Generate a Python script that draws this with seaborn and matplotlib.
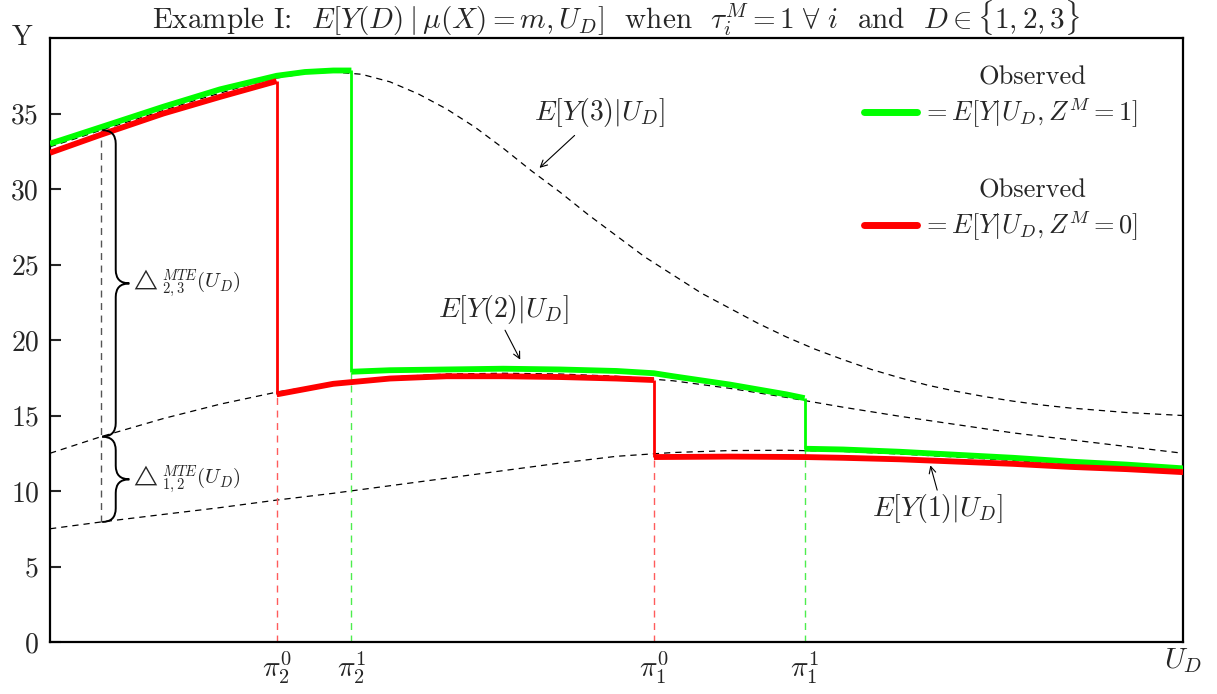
import matplotlib
matplotlib.use("Agg")
import matplotlib.pyplot as plt
import pandas as pd
import seaborn as sns
from matplotlib.lines import Line2D
from matplotlib.path import Path
from matplotlib.patches import PathPatch

# potential outcome curves E[Y(d)|U_D]
u3 = [0, 0.025, 0.045, 0.075, 0.1, 0.125, 0.15, 0.175, 0.2, 0.225, 0.25, 0.275,
      0.3, 0.325, 0.35, 0.375, 0.4, 0.425, 0.45, 0.475, 0.5, 0.525, 0.55, 0.575,
      0.6, 0.625, 0.65, 0.675, 0.7, 0.725, 0.75, 0.775, 0.8, 0.825, 0.85, 0.875,
      0.9, 0.925, 0.95, 0.975, 1.0]
y3 = [32.8, 33.4, 33.9, 34.6, 35.2, 35.8, 36.35, 36.9, 37.35, 37.65, 37.75, 37.6,
      37.1, 36.3, 35.3, 34.1, 32.7, 31.2, 29.8, 28.3, 26.9, 25.5, 24.3, 23.1,
      22.1, 21.1, 20.2, 19.4, 18.7, 18.05, 17.5, 17.0, 16.6, 16.25, 15.95, 15.7,
      15.5, 15.35, 15.2, 15.1, 15.0]
u2 = [0, 0.045, 0.1, 0.15, 0.2, 0.25, 0.3, 0.35, 0.4, 0.45, 0.5, 0.55, 0.6, 0.65,
      0.7, 0.75, 0.8, 0.85, 0.9, 0.95, 1.0]
y2 = [12.5, 13.6, 14.8, 15.75, 16.55, 17.15, 17.55, 17.75, 17.8, 17.75, 17.6, 17.3,
      16.8, 16.2, 15.55, 14.95, 14.4, 13.85, 13.4, 12.95, 12.5]
u1 = [0, 0.045, 0.1, 0.15, 0.2, 0.25, 0.3, 0.35, 0.4, 0.45, 0.5, 0.55, 0.6, 0.65,
      0.7, 0.75, 0.8, 0.85, 0.9, 0.95, 1.0]
y1 = [7.5, 7.95, 8.45, 8.9, 9.4, 9.85, 10.35, 10.85, 11.35, 11.85, 12.3, 12.55,
      12.68, 12.7, 12.62, 12.45, 12.25, 12.02, 11.8, 11.6, 11.4]

# observed E[Y|U_D, Z^M], a repeated u marks a jump
green_u = [0, 0.045, 0.1, 0.15, 0.2, 0.225, 0.25, 0.266,
           0.266, 0.3, 0.35, 0.4, 0.45, 0.5, 0.533, 0.55, 0.6, 0.65, 0.666,
           0.666, 0.7, 0.75, 0.8, 0.85, 0.9, 0.95, 1.0]
green_y = [33.0, 34.1, 35.45, 36.6, 37.5, 37.75, 37.85, 37.85,
           17.9, 18.0, 18.05, 18.1, 18.05, 17.95, 17.8, 17.6, 17.05, 16.4, 16.15,
           12.8, 12.75, 12.6, 12.4, 12.2, 11.95, 11.75, 11.5]
red_u = [0, 0.045, 0.1, 0.15, 0.2,
         0.2, 0.25, 0.3, 0.35, 0.4, 0.45, 0.5, 0.533,
         0.533, 0.6, 0.666, 0.7, 0.75, 0.8, 0.85, 0.9, 0.95, 1.0]
red_y = [32.4, 33.6, 35.0, 36.1, 37.15,
         16.4, 17.1, 17.45, 17.6, 17.6, 17.55, 17.45, 17.35,
         12.25, 12.28, 12.25, 12.2, 12.1, 11.95, 11.8, 11.6, 11.45, 11.25]

pi_pos = [0.2, 0.266, 0.533, 0.666]
pi_labels = [r"$\pi_2^0$", r"$\pi_2^1$", r"$\pi_1^0$", r"$\pi_1^1$"]
y_ticks = [0, 5, 10, 15, 20, 25, 30, 35]

GREEN = "#00ff00"
RED = "#ff0000"

sns.set_theme(style="ticks")
plt.rcParams.update({
    "font.family": "serif",
    "font.serif": ["cmr10"],
    "mathtext.fontset": "cm",
    "axes.unicode_minus": False,
    "axes.formatter.use_mathtext": True,
    "axes.edgecolor": "black",
    "axes.linewidth": 1.6,
})

fig = plt.figure(figsize=(12.17, 6.94), dpi=100)
ax = fig.add_axes([0.0411, 0.0749, 0.931, 0.8703])

curves = pd.concat([
    pd.DataFrame({"u": u1, "y": y1, "curve": "Y1"}),
    pd.DataFrame({"u": u2, "y": y2, "curve": "Y2"}),
    pd.DataFrame({"u": u3, "y": y3, "curve": "Y3"}),
])
sns.lineplot(data=curves, x="u", y="y", units="curve", estimator=None, sort=False,
             color="black", lw=0.9, linestyle=(0, (5, 4)), ax=ax)


def observed(us, ys, color, dash_color):
    # split at the jumps: thick pieces, thin vertical steps
    seg, segs, jumps = 0, [], []
    for i in range(len(us)):
        if i > 0 and us[i] == us[i - 1]:
            seg += 1
            jumps.append((us[i], ys[i - 1], ys[i]))
        segs.append(seg)
    df = pd.DataFrame({"u": us, "y": ys, "seg": segs})
    for ju, ya, yb in jumps:
        lo = min(ya, yb)
        ax.vlines(ju, 0, lo, color=dash_color, lw=1.0, linestyle=(0, (5, 4)), zorder=2)
        ax.vlines(ju, lo, max(ya, yb), color=color, lw=2.0, zorder=3)
    sns.lineplot(data=df, x="u", y="y", units="seg", estimator=None, sort=False,
                 color=color, lw=4.2, solid_capstyle="butt", ax=ax, zorder=3)


observed(green_u, green_y, GREEN, "#4ded4d")
observed(red_u, red_y, RED, "#ff5c5c")

# MTE braces at u = 0.045
bu = u1[1]
ax.vlines(bu, y1[1], y3[2], color="#555555", lw=1.0, linestyle=(0, (5, 4)), zorder=2)


def brace(ylo, yhi, x0, x1, x2, r=0.9):
    ym = (ylo + yhi) / 2
    verts = [(x0, yhi), (x1, yhi), (x1, yhi - r), (x1, ym + r), (x1, ym), (x2, ym),
             (x1, ym), (x1, ym - r), (x1, ylo + r), (x1, ylo), (x0, ylo)]
    codes = [Path.MOVETO, Path.CURVE3, Path.CURVE3, Path.LINETO, Path.CURVE3,
             Path.CURVE3, Path.CURVE3, Path.CURVE3, Path.LINETO, Path.CURVE3, Path.CURVE3]
    ax.add_patch(PathPatch(Path(verts, codes), fill=False, lw=1.4, color="black", zorder=4))
    return ym


m23 = brace(y2[1], y3[2], bu + 0.001, bu + 0.013, bu + 0.025)
m12 = brace(y1[1], y2[1], bu + 0.001, bu + 0.013, bu + 0.025)
ax.text(bu + 0.026, m23, r"$\triangle^{MTE}_{2,3}(U_D)$", fontsize=15, va="center", ha="left")
ax.text(bu + 0.026, m12, r"$\triangle^{MTE}_{1,2}(U_D)$", fontsize=15, va="center", ha="left")

# curve labels
arrow = dict(arrowstyle="->", lw=0.8, color="black", shrinkA=0, shrinkB=0)
ax.text(0.485, 35.1, r"$E[Y(3)|U_D]$", fontsize=20, ha="center", va="center")
ax.annotate("", xy=(0.432, 31.4), xytext=(0.463, 33.55), arrowprops=arrow)
ax.text(0.40, 22.0, r"$E[Y(2)|U_D]$", fontsize=20, ha="center", va="center")
ax.annotate("", xy=(0.415, 18.7), xytext=(0.4016, 20.65), arrowprops=arrow)
ax.text(0.783, 8.87, r"$E[Y(1)|U_D]$", fontsize=20, ha="center", va="center")
ax.annotate("", xy=(0.777, 11.7), xytext=(0.783, 10.06), arrowprops=arrow)

# legends, with "Observed" written above each entry
leg_kw = dict(loc="center", frameon=False, fontsize=19, handlelength=2.0,
              handletextpad=0.2, borderpad=0, borderaxespad=0)
leg1 = ax.legend(handles=[Line2D([], [], color=GREEN, lw=5)],
                 labels=[r"$= E[Y|U_D, Z^M = 1]$"], bbox_to_anchor=(0.8394, 0.876), **leg_kw)
ax.add_artist(leg1)
ax.legend(handles=[Line2D([], [], color=RED, lw=5)],
          labels=[r"$= E[Y|U_D, Z^M = 0]$"], bbox_to_anchor=(0.8394, 0.689), **leg_kw)
for ty in (0.935, 0.748):
    ax.text(0.867, ty, "Observed", transform=ax.transAxes, fontsize=19,
            ha="center", va="center")

ax.set_xlim(0, 1)
ax.set_ylim(0, 40)
ax.set_xticks(pi_pos, pi_labels)
ax.set_yticks(y_ticks, [str(t) for t in y_ticks])
ax.tick_params(axis="x", length=0, labelsize=21, pad=5)
ax.tick_params(axis="y", direction="in", length=8, width=1.5, labelsize=20, pad=8)
ax.set_xlabel("")
ax.set_ylabel("")
for s in ax.spines.values():
    s.set_visible(True)
    s.set_linewidth(1.6)

ax.text(-0.0247, 1.0, "Y", transform=ax.transAxes, fontsize=20, ha="center", va="center")
ax.text(1.0, -0.03, r"$U_D$", transform=ax.transAxes, fontsize=21, ha="center", va="center")
ax.set_title(r"Example I:  $E[Y(D)\mid\mu(X) = m, U_D]$  when  $\tau_i^M = 1\ \forall\ i$"
             r"  and  $D \in \{1, 2, 3\}$", fontsize=21, pad=3)

fig.savefig("out.png", dpi=100)
